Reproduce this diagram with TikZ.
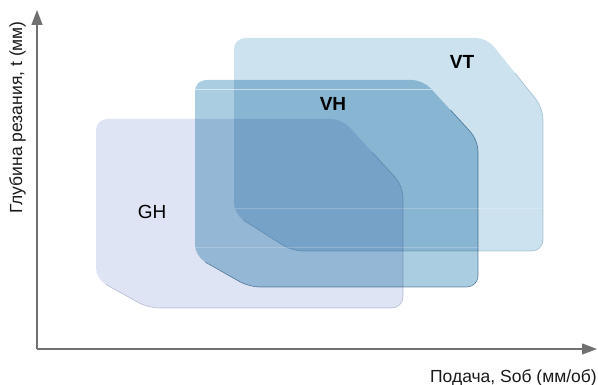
\documentclass[tikz,border=0pt]{standalone}
\usepackage{fontspec}
\setmainfont{Liberation Sans}
\usetikzlibrary{arrows.meta}
\definecolor{ghc}{HTML}{DEE4F3}
\definecolor{vhc}{HTML}{AACDE1}
\definecolor{vtc}{HTML}{CCE3EF}
\definecolor{ghe}{HTML}{BCC1D0}
\definecolor{vhe}{HTML}{6A8AA2}
\definecolor{vte}{HTML}{B2C6D2}
\definecolor{axisc}{HTML}{707070}
\begin{document}
\begin{tikzpicture}[x=1pt,y=-1pt,
  zone/.style={rounded corners=11pt},
  ghp/.style={insert path={(96,119) -- (342,119) -- (403,186) -- (403,308) -- (148,308) -- (96,279) -- cycle}},
  vhp/.style={insert path={(195,80) -- (423,80) -- (478,140) -- (478,287) -- (249,287) -- (195,256) -- cycle}},
  vtp/.style={insert path={(234,38) -- (487,38) -- (543,108) -- (543,251) -- (292,251) -- (234,214) -- cycle}},
  rim/.style={rounded corners=11pt, line width=0.6pt, line cap=round},
  gloss/.style={draw=white, line width=0.7pt, opacity=0.2},
  axis/.style={draw=axisc, line width=1.3pt, -{Triangle[length=15pt,width=11pt]}},
  zlabel/.style={font=\fontsize{19}{19}\selectfont, anchor=base, inner sep=0pt},
  alabel/.style={font=\fontsize{17.5}{17.5}\selectfont, inner sep=0pt, text=black!90}]
\useasboundingbox (0,0) rectangle (598,385);
\begin{scope}[blend group=multiply]
  \fill[ghc, zone, ghp];
  \fill[vtc, zone, vtp];
  \fill[vhc, zone, vhp];
  \draw[rim, draw=ghe!70!ghc] (372.5,152.5) -- (403,186) -- (403,308) -- (148,308) -- (106,284.5);
  \draw[rim, draw=vte!70!vtc] (515,73) -- (543,108) -- (543,251) -- (292,251) -- (243,220);
  \draw[rim, draw=vhe!85!vhc] (450.5,110) -- (478,140) -- (478,287) -- (249,287) -- (205,262);
\end{scope}
\begin{scope}
  \clip[zone, vhp];
  \draw[gloss, opacity=0.55] (190,89) -- (440,89);
  \draw[gloss] (190,247) -- (480,247);
\end{scope}
\begin{scope}
  \clip[zone, vtp];
  \draw[gloss] (230,208) -- (545,208);
\end{scope}
\node[zlabel, font=\fontsize{19}{19}\selectfont\bfseries] (vt) at (462,69) {VT};
\node[zlabel, font=\fontsize{19}{19}\selectfont\bfseries] (vh) at (333,111) {VH};
\node[zlabel] (gh) at (152,219) {GH};
\coordinate (origin) at (37,349);
\coordinate (ytip) at (37,10);
\coordinate (xtip) at (597,349);
\draw[axis] (origin) -- (ytip);
\draw[axis] (origin) -- (xtip);
\node[alabel, anchor=base east] (xlab) at (597,382) {Подача, Soб (мм/об)};
\node[alabel, anchor=base east, rotate=90] (ylab) at (22,21) {Глубина резания, t (мм)};
\end{tikzpicture}
\end{document}
